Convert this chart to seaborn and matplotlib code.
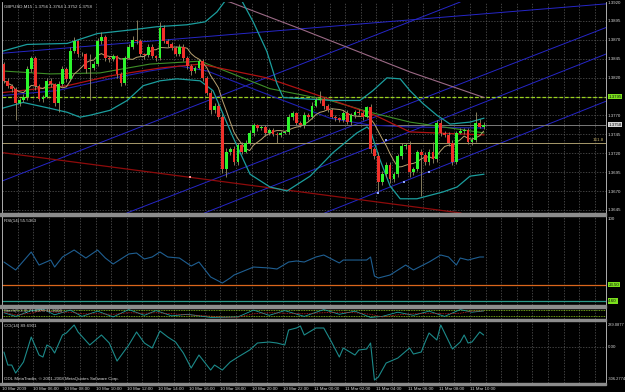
import numpy as np
import pandas as pd
import matplotlib
matplotlib.use('Agg')
import matplotlib.pyplot as plt
import seaborn as sns
from matplotlib.patches import Rectangle
from matplotlib.transforms import blended_transform_factory

W, H = 625, 392

symbol_title = 'GBPUSD,M15  1.3756 1.3764 1.3752 1.3758'
rsi_title = 'RSI(14) 55.5363'
stoch_title = 'Stoch(5,3,3) 71.6976 71.3604'
cci_title = 'CCI(14) 89.6901'
copyright_text = 'ODL MetaTrader, \u00a9 2001-2008 MetaQuotes Software Corp.'

# ---- candles (M15, 10 Mar 04:00 .. 11 Mar 10:45) ----
first_open = 1.3838
closes = [1.3816, 1.3809, 1.3805, 1.3786, 1.3790, 1.3795, 1.3831, 1.3846, 1.3809, 1.3792,
          1.3795, 1.3816, 1.3811, 1.3787, 1.3812, 1.3831, 1.3818, 1.3855, 1.3868, 1.3851,
          1.3851, 1.3831, 1.3833, 1.3838, 1.3868, 1.3874, 1.3846, 1.3844, 1.3848, 1.3825,
          1.3813, 1.3846, 1.3861, 1.3870, 1.3868, 1.3851, 1.3850, 1.3861, 1.3848, 1.3846,
          1.3885, 1.3868, 1.3865, 1.3859, 1.3851, 1.3861, 1.3846, 1.3835, 1.3829, 1.3833,
          1.3842, 1.3820, 1.3800, 1.3777, 1.3783, 1.3768, 1.3699, 1.3722, 1.3725, 1.3708,
          1.3731, 1.3722, 1.3734, 1.3747, 1.3757, 1.3753, 1.3755, 1.3747, 1.3751, 1.3746,
          1.3744, 1.3747, 1.3748, 1.3768, 1.3773, 1.3760, 1.3757, 1.3770, 1.3768, 1.3783,
          1.3790, 1.3792, 1.3783, 1.3777, 1.3768, 1.3766, 1.3764, 1.3773, 1.3761, 1.3770,
          1.3775, 1.3773, 1.3768, 1.3781, 1.3725, 1.3716, 1.3682, 1.3692, 1.3705, 1.3686,
          1.3692, 1.3716, 1.3729, 1.3731, 1.3695, 1.3699, 1.3721, 1.3718, 1.3708, 1.3722,
          1.3712, 1.3760, 1.3747, 1.3744, 1.3734, 1.3709, 1.3747, 1.3750, 1.3751, 1.3735,
          1.3738, 1.3760, 1.3755, 1.3758]
# wick lengths beyond the body, in pips
wick_up = [3, 4, 3, 2, 3, 4, 5, 3, 2, 3,
           2, 3, 4, 2, 3, 4, 3, 5, 6, 2,
           3, 2, 18, 4, 4, 6, 3, 2, 3, 2,
           3, 2, 4, 5, 26, 3, 2, 3, 4, 2,
           9, 4, 3, 2, 3, 4, 3, 2, 3, 2,
           3, 3, 2, 4, 3, 3, 4, 5, 3, 4,
           3, 4, 3, 4, 3, 2, 3, 2, 3, 3,
           2, 3, 2, 4, 3, 2, 3, 4, 3, 5,
           4, 10, 3, 2, 3, 2, 2, 3, 4, 3,
           2, 3, 3, 2, 4, 3, 5, 4, 3, 4,
           3, 3, 4, 3, 5, 3, 3, 4, 3, 4,
           13, 4, 5, 3, 4, 3, 3, 4, 3, 3,
           4, 14, 5, 3]
wick_dn = [3, 3, 4, 22, 3, 2, 4, 3, 5, 3,
           4, 2, 3, 4, 13, 3, 4, 2, 3, 4,
           3, 5, 40, 3, 2, 3, 4, 3, 2, 5,
           4, 3, 2, 3, 4, 3, 5, 3, 2, 4,
           3, 2, 4, 3, 3, 2, 4, 3, 5, 3,
           2, 4, 3, 5, 4, 3, 5, 10, 4, 3,
           4, 3, 2, 3, 4, 3, 2, 4, 3, 3,
           10, 3, 2, 3, 4, 3, 2, 3, 4, 3,
           2, 3, 4, 3, 2, 4, 3, 3, 2, 4,
           3, 3, 4, 2, 5, 4, 13, 4, 3, 5,
           4, 3, 4, 3, 6, 4, 3, 54, 4, 3,
           5, 3, 4, 3, 5, 4, 3, 2, 4, 3,
           4, 3, 2, 3]

# ---- indicator lines (bar position, price) ----
bb_up_bar = [0, 6.4, 16.7, 24.4, 33.6, 39.7, 47.4, 52.1, 55.1, 58.5, 61.0, 64.4, 67.9, 70.5,
             72.1, 76.4, 84.9, 91.8, 95.1, 98.7, 102.1, 104.6, 107.9, 111.5, 114.9, 120.0, 123.6]
bb_up_val = [1.38548, 1.38639, 1.38652, 1.38782, 1.38834, 1.38873, 1.38899, 1.38938, 1.39068,
             1.39302, 1.39263, 1.38938, 1.38548, 1.38119, 1.37937, 1.37924, 1.37898, 1.37898,
             1.38028, 1.38197, 1.38184, 1.38028, 1.37859, 1.37703, 1.37586, 1.37612, 1.37664]
bb_lo_bar = [0, 5.4, 12.3, 16.7, 20.0, 22.6, 27.7, 32.1, 36.2, 40.5, 44.9, 50.8, 54.1, 59.2,
             63.6, 68.7, 73.1, 79.0, 84.9, 91.0, 93.6, 94.4, 96.9, 99.5, 102.1, 106.4, 113.1,
             116.7, 120.0, 123.6]
bb_lo_val = [1.37794, 1.37872, 1.37794, 1.37742, 1.37677, 1.37703, 1.37768, 1.37898, 1.38093,
             1.38158, 1.38184, 1.38158, 1.38028, 1.37417, 1.36923, 1.36754, 1.36702, 1.36897,
             1.37209, 1.37469, 1.37547, 1.37508, 1.37118, 1.36767, 1.36598, 1.36598, 1.36689,
             1.36754, 1.36897, 1.36923]
red_ma_bar = [0, 16.7, 27.7, 40.5, 50.8, 67.9, 84.9, 95.6, 104.6, 123.6]
red_ma_val = [1.38002, 1.38093, 1.38223, 1.38327, 1.38379, 1.38197, 1.37898, 1.37703, 1.37482, 1.37443]
green_ma_bar = [0, 12.3, 25.1, 37.9, 50.8, 59.2, 68.7, 84.1, 94.4, 104.6, 123.6]
green_ma_val = [1.38288, 1.38249, 1.38262, 1.38379, 1.38418, 1.38249, 1.38054, 1.37898, 1.37742,
                1.37612, 1.37469]
navy_ma_bar = [0, 14.1, 27.7, 37.9, 45.6, 52.6, 62.3, 72.1, 84.1, 94.4, 104.6, 123.6]
navy_ma_val = [1.37963, 1.38028, 1.38184, 1.38288, 1.38353, 1.38288, 1.38093, 1.37898, 1.37664,
               1.37573, 1.37547, 1.37534]
pink_ma_bar = [56.0, 58.5, 76.4, 104.6, 123.6]
pink_ma_val = [1.3923, 1.39198, 1.38847, 1.38275, 1.37937]
fast_ma_period = 8

# trend lines: two anchor points each (bar, price)
blue_lines = [((0.0, 1.36832), (117.4, 1.39198)),
              ((104.6, 1.37859), (154.1, 1.38847)),
              ((104.6, 1.36858), (154.1, 1.37872)),
              ((98.7, 1.37365), (154.1, 1.38496)),
              ((0.0, 1.38522), (154.1, 1.39172))]
red_line = ((0.0, 1.37209), (114.9, 1.36429))
fractal_bar = [96.4, 98.5, 103.1, 109.5]
fractal_val = [1.36676, 1.37378, 1.36819, 1.36949]
anchor_bar, anchor_val = 48.2, 1.36884

level_lime = 1.3795
level_bid = 1.3758
level_fibo = 1.37339
price_ticks = [1.3645, 1.3670, 1.3695, 1.3720, 1.3745, 1.3770, 1.3820, 1.3845, 1.3870, 1.3895, 1.3920]
grid_prices = [1.3645, 1.3670, 1.3695, 1.3720, 1.3745, 1.3770, 1.3795, 1.3820, 1.3845, 1.3870, 1.3895]

time_labels = ['10 Mar 2009', '10 Mar 06:00', '10 Mar 08:00', '10 Mar 10:00', '10 Mar 12:00',
               '10 Mar 14:00', '10 Mar 16:00', '10 Mar 18:00', '10 Mar 20:00', '10 Mar 22:00',
               '11 Mar 00:00', '11 Mar 02:00', '11 Mar 04:00', '11 Mar 06:00', '11 Mar 08:00',
               '11 Mar 10:00']

# ---- RSI ----
rsi_bar = [0, 3, 7, 9, 12, 13, 15, 18, 21, 24, 26, 28, 32, 34, 36, 38, 40, 42, 45, 48, 50, 53,
           56, 58, 59, 64, 68, 70, 73, 75, 77, 80, 82, 86, 87, 93, 94, 95, 96, 99, 103, 105,
           109, 112, 114, 116, 117, 119, 122, 123]
rsi_val = [49.7, 40.5, 61.3, 46.2, 52.0, 43.9, 55.5, 63.6, 54.3, 63.6, 54.3, 47.4, 59.0, 60.1,
           53.2, 55.5, 61.3, 55.5, 54.3, 45.1, 49.7, 32.4, 25.4, 31.2, 34.7, 43.9, 42.8, 41.6,
           49.7, 50.9, 49.7, 55.5, 57.8, 48.6, 52.0, 52.0, 55.5, 33.5, 31.2, 34.7, 46.2, 40.5,
           49.7, 57.8, 55.5, 46.2, 54.3, 52.0, 55.5, 55.5]
rsi_level_hi = 23.5
rsi_level_lo = 4.6

# ---- Stochastic ----
stoch_bar = [0, 3, 7, 10, 13, 17, 20, 24, 28, 32, 36, 39, 43, 47, 53, 57, 60, 64, 68, 72, 77,
             82, 86, 90, 94, 97, 101, 105, 109, 113, 117, 120, 123]
stoch_main = [55, 20, 75, 90, 35, 80, 20, 70, 15, 85, 30, 75, 25, 40, 10, 12, 15, 80, 30, 75,
              20, 85, 40, 70, 10, 20, 60, 30, 70, 20, 85, 60, 72]
stoch_sig = [60, 35, 50, 80, 60, 60, 45, 45, 40, 55, 50, 55, 45, 35, 22, 12, 12, 45, 55, 50,
             45, 55, 60, 55, 40, 15, 35, 45, 50, 45, 50, 70, 71]

# ---- CCI ----
cci_bar = [0, 1, 2, 3, 5, 7, 9, 10, 11, 12, 13, 15, 16, 18, 19, 22, 25, 27, 29, 32, 34, 36, 38,
           40, 42, 44, 46, 48, 50, 53, 54, 56, 58, 60, 63, 65, 68, 70, 72, 73, 75, 76, 77, 80,
           82, 84, 86, 87, 90, 91, 93, 94, 95, 96, 98, 101, 104, 105, 107, 108, 109, 111, 112,
           115, 117, 118, 119, 120, 122, 123]
cci_val = [-40.7, -140.4, -140.4, -201.7, -117.4, 74.4, -63.7, -79.0, 13.0, -2.3, -48.3, 89.7,
           105.1, 166.4, 112.7, 13.0, 89.7, 28.4, -109.7, 13.0, 112.7, 28.4, -10.0, 120.4, 74.4,
           36.0, -48.3, -163.4, -63.7, -178.7, -140.4, -178.7, -117.4, -79.0, -25.3, 28.4, 36.0,
           28.4, 13.0, 128.1, 143.4, 158.8, 89.7, 143.4, 143.4, 36.0, -79.0, -10.0, -63.7, -25.3,
           -17.6, 28.4, -255.4, -232.4, -125.0, -86.7, -10.0, -56.0, -40.7, 36.0, 105.1, 51.4,
           166.4, -17.6, 36.0, 89.7, 28.4, 36.0, 112.7, 89.7]

# ---- style ----
BG = '#000000'
TXT = '#d8d8d8'
GRID = '#5a5a5a'
BULL = '#2cf52c'
BEAR = '#f0302a'
WICK = '#9a8f6a'
TEAL = '#1b9e9e'
FS = 3.2

sns.set_theme(style='dark', rc={'axes.facecolor': BG, 'figure.facecolor': BG,
                                'axes.edgecolor': '#c8c8c8', 'text.color': TXT})
plt.rcParams['font.family'] = ['Liberation Sans', 'DejaVu Sans']

fig = plt.figure(figsize=(W / 100, H / 100), dpi=100)


def px_axes(x0, y0, x1, y1):
    return fig.add_axes([x0 / W, 1 - y1 / H, (x1 - x0) / W, (y1 - y0) / H])


XMAX = (606 - 2) / 3.9
grid_bars = np.arange(4, XMAX, 4)

ax = px_axes(2, 2, 606, 213)
ax_rsi = px_axes(2, 216, 606, 305)
ax_sto = px_axes(2, 308, 606, 319)
ax_cci = px_axes(2, 321, 606, 383)

for a in (ax, ax_rsi, ax_sto, ax_cci):
    a.set_facecolor(BG)
    a.set_xlim(0, XMAX)
    for s in ('top', 'bottom'):
        a.spines[s].set_visible(False)
    for s in ('left', 'right'):
        a.spines[s].set_color('#c8c8c8')
        a.spines[s].set_linewidth(0.6)
    for gb in grid_bars:
        a.axvline(gb, color=GRID, lw=0.5, ls=(0, (2, 2)), zorder=0)
    a.set_xticks([])
    a.yaxis.tick_right()
    a.tick_params(axis='y', length=0, pad=1.5, labelsize=FS, labelcolor=TXT)
    a.set_xlabel('')
    a.set_ylabel('')

# ---- main price panel ----
c = np.array(closes)
o = np.array([first_open] + closes[:-1])
hi = np.maximum(o, c) + np.array(wick_up) * 0.0001
lo = np.minimum(o, c) - np.array(wick_dn) * 0.0001
xb = np.arange(len(c)) + 0.5
up = c >= o

ax.set_ylim(1.3641, 1.3920)
for gp in grid_prices:
    ax.axhline(gp, color=GRID, lw=0.5, ls=(0, (2, 2)), zorder=0)
ax.set_yticks(price_ticks)
ax.set_yticklabels([f'{p:.4f}' for p in price_ticks])

for p1, p2 in blue_lines:
    ax.axline(p1, p2, color='#2626c8', lw=0.7, zorder=1)
ax.axline(red_line[0], red_line[1], color='#8e0b0b', lw=0.9, zorder=1)

ax.axhline(level_bid, color='#7a7a7a', lw=0.7, zorder=1)
ax.axhline(level_fibo, color='#a89a6c', lw=0.7, zorder=1)
ax.axhline(level_lime, color='#9ad21e', lw=0.9, ls=(0, (3, 1.5)), zorder=2)

sns.lineplot(x=pink_ma_bar, y=pink_ma_val, ax=ax, color='#9c6a86', lw=0.8, zorder=2)
sns.lineplot(x=navy_ma_bar, y=navy_ma_val, ax=ax, color='#2020b0', lw=0.8, zorder=2)
sns.lineplot(x=green_ma_bar, y=green_ma_val, ax=ax, color='#3f8f28', lw=0.8, zorder=2)
sns.lineplot(x=red_ma_bar, y=red_ma_val, ax=ax, color='#b01212', lw=0.9, zorder=2)
sns.lineplot(x=bb_up_bar, y=bb_up_val, ax=ax, color=TEAL, lw=0.9, zorder=2)
sns.lineplot(x=bb_lo_bar, y=bb_lo_val, ax=ax, color=TEAL, lw=0.9, zorder=2)
fast_ma = pd.Series(c).rolling(fast_ma_period, min_periods=1).mean()
sns.lineplot(x=xb, y=fast_ma.values, ax=ax, color='#b9a271', lw=0.7, zorder=2)

ax.vlines(xb, lo, hi, color=WICK, lw=0.6, zorder=3)
body = np.maximum(np.abs(c - o), 0.00008)
ax.bar(xb[up], body[up], bottom=o[up], width=0.72, color=BULL, zorder=4, linewidth=0)
ax.bar(xb[~up], body[~up], bottom=c[~up], width=0.72, color=BEAR, zorder=4, linewidth=0)

ax.scatter(fractal_bar, fractal_val, s=2.5, marker='s', color='#8fa8ff', zorder=5, linewidths=0)
ax.scatter([anchor_bar], [anchor_val], s=2.5, marker='s', color='#ff9a9a', zorder=5, linewidths=0)

bt = blended_transform_factory(ax.transAxes, ax.transData)
ax.text(1.004, level_lime, f'{level_lime:.4f}', transform=bt, va='center', ha='left',
        fontsize=FS, color='#101010', clip_on=False,
        bbox=dict(boxstyle='square,pad=0.15', fc='#7be01c', ec='none'))
ax.text(1.004, level_bid, f'{level_bid:.4f}', transform=bt, va='center', ha='left',
        fontsize=FS, color='#101010', clip_on=False,
        bbox=dict(boxstyle='square,pad=0.15', fc='#d6d6d6', ec='none'))
ax.text(0.997, level_fibo + 0.0001, '161.8', transform=bt, va='bottom', ha='right',
        fontsize=FS, color='#c9b36a')
ax.text(0.004, 0.99, symbol_title, transform=ax.transAxes, va='top', ha='left',
        fontsize=FS, color=TXT)

# ---- RSI panel ----
ax_rsi.set_ylim(0, 102.9)
ax_rsi.set_yticks([100])
ax_rsi.set_yticklabels(['100'])
ax_rsi.axhline(rsi_level_hi, color='#d9661c', lw=0.9)
ax_rsi.axhline(rsi_level_lo, color='#2a9a8a', lw=0.9)
sns.lineplot(x=np.array(rsi_bar) + 0.5, y=rsi_val, ax=ax_rsi, color='#1f5f92', lw=0.8)
rt = blended_transform_factory(ax_rsi.transAxes, ax_rsi.transData)
for lv in (rsi_level_hi, rsi_level_lo):
    ax_rsi.text(1.004, lv, f'{lv:.2f}', transform=rt, va='center', ha='left', fontsize=FS,
                color='#101010', clip_on=False,
                bbox=dict(boxstyle='square,pad=0.15', fc='#7be01c', ec='none'))
ax_rsi.text(0.004, 0.97, rsi_title, transform=ax_rsi.transAxes, va='top', ha='left',
            fontsize=FS, color=TXT)

# ---- Stochastic panel ----
ax_sto.set_ylim(-5, 100)
ax_sto.set_yticks([])
ax_sto.axhline(80, color='#8fd21e', lw=0.6, ls=(0, (1, 1)))
ax_sto.axhline(20, color='#8fd21e', lw=0.6, ls=(0, (1, 1)))
sns.lineplot(x=np.array(stoch_bar) + 0.5, y=stoch_main, ax=ax_sto, color=TEAL, lw=0.6)
sns.lineplot(x=np.array(stoch_bar) + 0.5, y=stoch_sig, ax=ax_sto, color='#d02020', lw=0.6,
             linestyle=(0, (1, 1)))
ax_sto.text(0.004, 0.95, stoch_title, transform=ax_sto.transAxes, va='top', ha='left',
            fontsize=FS, color=TXT)

# ---- CCI panel ----
ax_cci.set_ylim(-278, 197)
ax_cci.set_yticks([0])
ax_cci.set_yticklabels(['0.00'])
ax_cci.axhline(0, color=GRID, lw=0.5, ls=(0, (2, 2)), zorder=0)
sns.lineplot(x=np.array(cci_bar) + 0.5, y=cci_val, ax=ax_cci, color='#1c8a8a', lw=0.8)
ax_cci.text(1.003, 0.96, '289.0877', transform=ax_cci.transAxes, va='top', ha='left',
            fontsize=FS - 0.3, color=TXT, clip_on=False)
ax_cci.text(1.003, 0.04, '-306.2774', transform=ax_cci.transAxes, va='bottom', ha='left',
            fontsize=FS - 0.3, color=TXT, clip_on=False)
ax_cci.text(0.004, 0.95, cci_title, transform=ax_cci.transAxes, va='top', ha='left',
            fontsize=FS, color=TXT)
ax_cci.text(0.004, 0.03, copyright_text, transform=ax_cci.transAxes, va='bottom', ha='left',
            fontsize=FS, color=TXT)

label_bars = np.arange(0, 8 * len(time_labels), 8)
ax_cci.set_xticks(label_bars)
ax_cci.set_xticklabels(time_labels)
ax_cci.tick_params(axis='x', length=0, pad=3, labelsize=FS, labelcolor=TXT)
for lbl in ax_cci.get_xticklabels():
    lbl.set_ha('left')

# panel separators
for y0, h in ((213, 3), (305, 3), (319, 2), (383, 2)):
    fig.patches.append(Rectangle((0, 1 - (y0 + h) / H), 606 / W, h / H,
                                 transform=fig.transFigure, color='#8c8c8c', zorder=10))

fig.savefig('out.png', dpi=100, facecolor=BG)
